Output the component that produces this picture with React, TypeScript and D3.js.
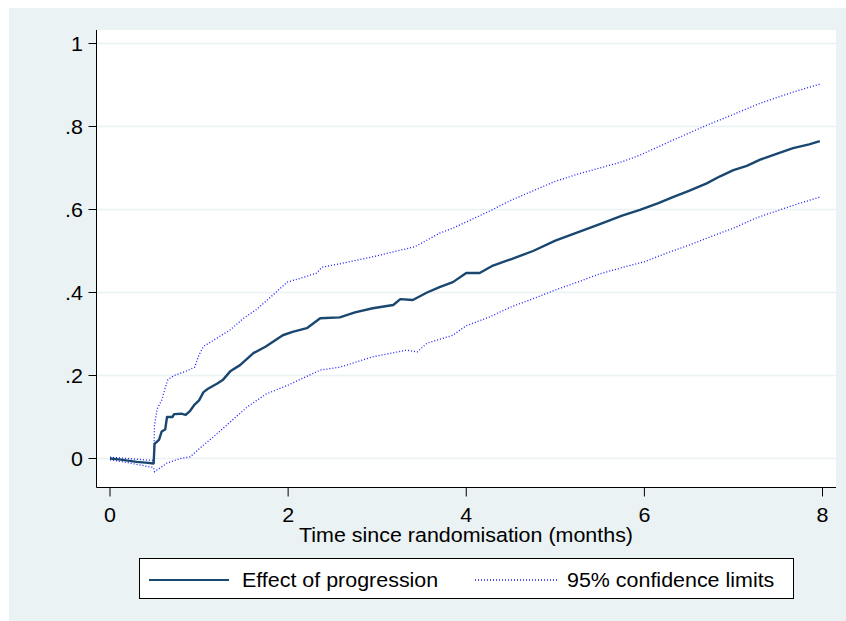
import React from "react";
import * as d3 from "d3";

const effectT = [0, 0.1, 0.2, 0.3, 0.4, 0.49, 0.5, 0.55, 0.58, 0.62, 0.64, 0.7, 0.72, 0.8, 0.85, 0.9, 0.95, 1.0, 1.05, 1.1, 1.2, 1.27, 1.35, 1.46, 1.61, 1.75, 1.94, 2.05, 2.21, 2.36, 2.58, 2.75, 2.95, 3.18, 3.26, 3.4, 3.56, 3.7, 3.85, 4.0, 4.15, 4.3, 4.5, 4.75, 5.0, 5.25, 5.5, 5.75, 5.95, 6.15, 6.32, 6.5, 6.7, 6.85, 7.0, 7.15, 7.3, 7.5, 7.67, 7.85, 7.97];
const effectV = [0, -0.002, -0.005, -0.008, -0.01, -0.012, 0.035, 0.045, 0.065, 0.07, 0.1, 0.1, 0.107, 0.108, 0.105, 0.115, 0.13, 0.14, 0.16, 0.168, 0.18, 0.19, 0.21, 0.225, 0.254, 0.27, 0.297, 0.305, 0.314, 0.338, 0.34, 0.352, 0.362, 0.37, 0.384, 0.382, 0.4, 0.413, 0.425, 0.447, 0.447, 0.465, 0.48, 0.5, 0.525, 0.545, 0.565, 0.585, 0.599, 0.615, 0.63, 0.645, 0.663, 0.68, 0.695, 0.705, 0.72, 0.735, 0.748, 0.757, 0.765];

const upperT = [0, 0.2, 0.49, 0.5, 0.53, 0.58, 0.62, 0.65, 0.72, 0.85, 0.95, 1.0, 1.05, 1.2, 1.35, 1.5, 1.65, 1.83, 1.99, 2.15, 2.32, 2.38, 2.6, 2.95, 3.26, 3.42, 3.55, 3.7, 3.85, 4.0, 4.25, 4.5, 4.75, 5.0, 5.25, 5.5, 5.75, 5.95, 6.32, 6.7, 6.93, 7.3, 7.67, 7.97];
const upperV = [0.003, 0.0, -0.005, 0.08, 0.12, 0.14, 0.17, 0.19, 0.2, 0.21, 0.22, 0.25, 0.27, 0.29, 0.31, 0.338, 0.36, 0.394, 0.425, 0.435, 0.447, 0.461, 0.47, 0.486, 0.502, 0.51, 0.525, 0.543, 0.555, 0.57, 0.595, 0.622, 0.645, 0.668, 0.685, 0.7, 0.715, 0.731, 0.767, 0.803, 0.823, 0.856, 0.883, 0.902];

const lowerT = [0, 0.2, 0.49, 0.5, 0.64, 0.79, 0.9, 1.01, 1.16, 1.35, 1.54, 1.75, 2.0, 2.13, 2.36, 2.58, 2.95, 3.33, 3.45, 3.56, 3.85, 4.0, 4.25, 4.5, 4.75, 5.0, 5.25, 5.5, 5.75, 6.0, 6.25, 6.5, 6.75, 7.0, 7.26, 7.45, 7.7, 7.97];
const lowerV = [-0.003, -0.01, -0.022, -0.032, -0.011, 0.0, 0.004, 0.025, 0.052, 0.088, 0.124, 0.155, 0.177, 0.19, 0.213, 0.22, 0.245, 0.261, 0.257, 0.278, 0.297, 0.32, 0.34, 0.365, 0.385, 0.406, 0.425, 0.445, 0.46, 0.474, 0.495, 0.514, 0.535, 0.555, 0.58, 0.594, 0.612, 0.63];

const xTicks = [0, 2, 4, 6, 8];
const yTicks = [0, 0.2, 0.4, 0.6, 0.8, 1];
const yTickLabels = ["0", ".2", ".4", ".6", ".8", "1"];
const xTitle = "Time since randomisation (months)";
const legendLabels = ["Effect of progression", "95% confidence limits"];

const W = 846;
const H = 621;
const plot = { left: 96.5, right: 836, top: 30, bottom: 487.5 };
const FONT = "'Liberation Sans', Arial, sans-serif";
const FS = 19.5;
const SX = 1.1;

export default function App() {
  const x = d3.scaleLinear().domain([0, 8]).range([110, 822.5]);
  const y = d3.scaleLinear().domain([0, 1]).range([458.5, 43.5]);
  const line = d3
    .line<[number, number]>()
    .x((d) => x(d[0]))
    .y((d) => y(d[1]));
  const zip = (t: number[], v: number[]) => t.map((tt, i) => [tt, v[i]] as [number, number]);

  const txt = (s: string, tx: number, ty: number, anchor: string, key?: string) => (
    <g key={key} transform={`translate(${tx},${ty}) scale(${SX},1)`}>
      <text x={0} y={0} textAnchor={anchor} fontFamily={FONT} fontSize={FS} fill="#000">
        {s}
      </text>
    </g>
  );

  return (
    <svg width={W} height={H} style={{ position: "absolute", left: 0, top: 0 }}>
      <rect x={0} y={0} width={W} height={H} fill="#fff" />
      <rect x={9} y={8} width={W - 9} height={H - 8} fill="#eaf2f3" />
      <rect x={plot.left} y={plot.top} width={plot.right - plot.left} height={plot.bottom - plot.top} fill="#fff" />
      {yTicks.map((t) => (
        <line key={"g" + t} x1={plot.left} x2={plot.right} y1={y(t)} y2={y(t)} stroke="#eaf2f3" strokeWidth={1.6} />
      ))}
      {/* axes */}
      <line x1={plot.left} x2={plot.left} y1={plot.top} y2={plot.bottom} stroke="#000" strokeWidth={1} />
      <line x1={plot.left} x2={plot.right} y1={plot.bottom} y2={plot.bottom} stroke="#000" strokeWidth={1} />
      {yTicks.map((t, i) => (
        <g key={"yt" + t}>
          <line x1={plot.left - 8} x2={plot.left} y1={y(t)} y2={y(t)} stroke="#000" strokeWidth={1} />
          {txt(yTickLabels[i], 83, y(t) + 7, "end")}
        </g>
      ))}
      {xTicks.map((t) => (
        <g key={"xt" + t}>
          <line x1={x(t)} x2={x(t)} y1={plot.bottom} y2={plot.bottom + 9} stroke="#000" strokeWidth={1} />
          {txt(String(t), x(t), 522, "middle")}
        </g>
      ))}
      {txt(xTitle, 466, 542, "middle")}
      {/* series */}
      <path d={line(zip(upperT, upperV)) || ""} fill="none" stroke="#1a1aff" strokeWidth={1.3} strokeDasharray="1 2" />
      <path d={line(zip(lowerT, lowerV)) || ""} fill="none" stroke="#1a1aff" strokeWidth={1.3} strokeDasharray="1 2" />
      <path d={line(zip(effectT, effectV)) || ""} fill="none" stroke="#1a476f" strokeWidth={2.4} strokeLinejoin="round" />
      {/* legend */}
      <rect x={139.5} y={558.5} width={654} height={40} fill="#fff" stroke="#000" strokeWidth={1} />
      <line x1={149} x2={229} y1={580} y2={580} stroke="#1a476f" strokeWidth={2.2} />
      {txt(legendLabels[0], 242, 587, "start")}
      <line x1={475} x2={557} y1={580} y2={580} stroke="#1a1aff" strokeWidth={1.3} strokeDasharray="1 2" />
      {txt(legendLabels[1], 567, 587, "start")}
    </svg>
  );
}
